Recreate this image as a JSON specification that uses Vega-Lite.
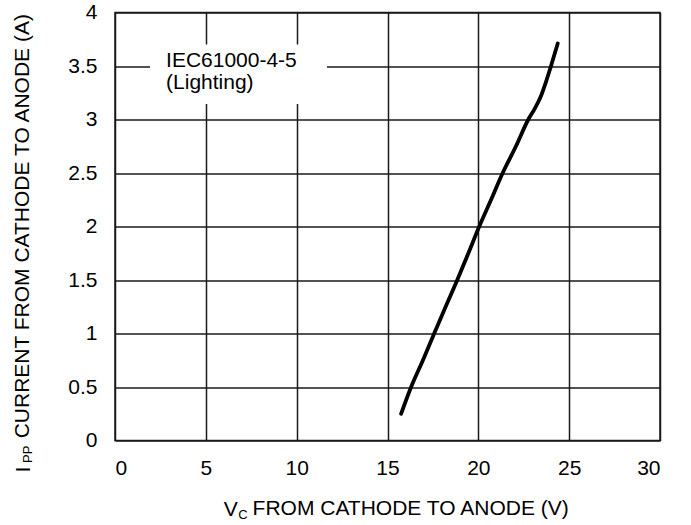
{
  "$schema": "https://vega.github.io/schema/vega-lite/v6.json",
  "width": 545,
  "height": 428,
  "autosize": {"type": "none"},
  "padding": {"left": 115, "top": 12.5, "right": 31, "bottom": 84.5},
  "background": "white",
  "config": {
    "font": "Liberation Sans",
    "view": {"stroke": "#1a1a1a", "strokeWidth": 1.5},
    "axis": {
      "domain": false,
      "ticks": false,
      "tickSize": 0,
      "grid": true,
      "gridColor": "#1a1a1a",
      "gridWidth": 1.5,
      "gridOpacity": 1,
      "labelFont": "Liberation Sans",
      "labelFontSize": 21,
      "labelColor": "black",
      "titleFont": "Liberation Sans",
      "titleFontSize": 21,
      "titleFontWeight": "normal",
      "titleColor": "black"
    }
  },
  "datasets": {
    "curve": [
      {"vc": 15.75, "ipp": 0.25},
      {"vc": 16.3, "ipp": 0.5},
      {"vc": 16.95, "ipp": 0.75},
      {"vc": 17.57, "ipp": 1.0},
      {"vc": 18.2, "ipp": 1.25},
      {"vc": 18.84, "ipp": 1.5},
      {"vc": 19.45, "ipp": 1.75},
      {"vc": 20.05, "ipp": 2.0},
      {"vc": 20.7, "ipp": 2.25},
      {"vc": 21.34, "ipp": 2.5},
      {"vc": 22.07, "ipp": 2.75},
      {"vc": 22.75, "ipp": 3.0},
      {"vc": 23.1, "ipp": 3.1},
      {"vc": 23.4, "ipp": 3.2},
      {"vc": 23.72, "ipp": 3.35},
      {"vc": 24.0, "ipp": 3.5},
      {"vc": 24.37, "ipp": 3.71}
    ],
    "box": [
      {"vc": 1.93, "vc2": 11.67, "ipp": 3.145, "ipp2": 3.70}
    ],
    "note": [
      {"label": "IEC61000-4-5", "vc": 2.81, "ipp": 3.49},
      {"label": "(Lighting)", "vc": 2.81, "ipp": 3.282}
    ],
    "xtitle": [
      {"label": "FROM CATHODE TO ANODE (V)", "vc": 7.574, "ipp": -0.696}
    ],
    "subx": [
      {"label": "C", "vc": 6.79, "ipp": -0.734}
    ],
    "ytitle": [
      {"label": "CURRENT FROM CATHODE TO ANODE (A)", "vc": -4.717, "ipp": 0.02}
    ],
    "suby": [
      {"label": "PP", "vc": -4.55, "ipp": -0.21}
    ]
  },
  "encoding": {
    "x": {
      "field": "vc",
      "type": "quantitative",
      "scale": {"domain": [0, 30], "nice": false, "zero": false},
      "axis": {
        "values": [0, 5, 10, 15, 20, 25, 30],
        "format": "~g",
        "labelPadding": 17,
        "title": "V",
        "titleAlign": "left",
        "titleAnchor": "start",
        "titleBaseline": "alphabetic",
        "titleX": 108.3,
        "titleY": 74.5
      }
    },
    "y": {
      "field": "ipp",
      "type": "quantitative",
      "scale": {"domain": [0, 4], "nice": false, "zero": false},
      "axis": {
        "values": [0, 0.5, 1, 1.5, 2, 2.5, 3, 3.5, 4],
        "format": "~g",
        "labelPadding": 18,
        "title": "I",
        "titleAngle": 270,
        "titleAlign": "left",
        "titleAnchor": "start",
        "titleBaseline": "alphabetic",
        "titleX": -85.7,
        "titleY": 459.5
      }
    }
  },
  "layer": [
    {
      "data": {"name": "box"},
      "mark": {"type": "rect", "fill": "white", "stroke": null},
      "encoding": {
        "x2": {"field": "vc2"},
        "y2": {"field": "ipp2"}
      }
    },
    {
      "data": {"name": "curve"},
      "mark": {"type": "line", "color": "black", "strokeWidth": 3.8, "interpolate": "monotone", "strokeCap": "round"},
      "encoding": {}
    },
    {
      "data": {"name": "note"},
      "mark": {"type": "text", "align": "left", "baseline": "alphabetic", "fontSize": 21, "font": "Liberation Sans", "color": "black"},
      "encoding": {"text": {"field": "label"}}
    },
    {
      "data": {"name": "xtitle"},
      "mark": {"type": "text", "align": "left", "baseline": "alphabetic", "fontSize": 21, "font": "Liberation Sans", "color": "black"},
      "encoding": {"text": {"field": "label"}}
    },
    {
      "data": {"name": "subx"},
      "mark": {"type": "text", "align": "left", "baseline": "alphabetic", "fontSize": 13, "font": "Liberation Sans", "color": "black"},
      "encoding": {"text": {"field": "label"}}
    },
    {
      "data": {"name": "ytitle"},
      "mark": {"type": "text", "align": "left", "baseline": "alphabetic", "angle": 270, "fontSize": 21, "font": "Liberation Sans", "color": "black"},
      "encoding": {"text": {"field": "label"}}
    },
    {
      "data": {"name": "suby"},
      "mark": {"type": "text", "align": "left", "baseline": "alphabetic", "angle": 270, "fontSize": 13, "font": "Liberation Sans", "color": "black"},
      "encoding": {"text": {"field": "label"}}
    }
  ]
}
